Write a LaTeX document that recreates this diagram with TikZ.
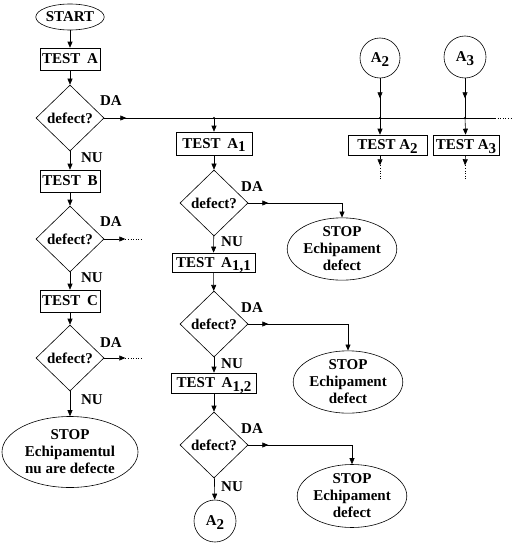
\documentclass[tikz,border=0pt]{standalone}
\usepackage{fontspec}
\setmainfont{Liberation Serif}[BoldFont=Liberation Serif Bold]
\usetikzlibrary{shapes.geometric,arrows.meta,decorations.markings,calc}
\newcommand\lowsub[1]{\raisebox{-3.5pt}[0pt][0pt]{#1}}
\begin{document}
\begin{tikzpicture}[x=1pt,y=-1pt,line width=0.6pt,
  every node/.style={font=\bfseries\fontsize{15}{17}\selectfont},
  box/.style={draw,rectangle,inner sep=0pt,minimum height=22pt},
  dia/.style={draw,diamond,inner sep=0pt,minimum width=68pt,minimum height=66pt},
  stopel/.style={draw,ellipse,inner sep=0pt,align=center},
  conn/.style={circle,draw,inner sep=0pt,minimum size=42pt},
  lbl/.style={inner sep=0pt},
  arr/.style={-{Triangle[length=6pt,width=5pt]}},
  tipat/.style={postaction={decorate},decoration={markings,mark=at position #1 with {\arrow{Triangle[length=6pt,width=5pt]}}}}]
\useasboundingbox (0,0) rectangle (514,546);
% left column
\node[draw,ellipse,inner sep=0pt,minimum width=65pt,minimum height=26pt] (start) at (70,17) {START};
\node[box,minimum width=60pt] (ta) at (70,59) {TEST\hspace{0.45em}A};
\node[dia] (d1) at (70,118) {defect?};
\node[box,minimum width=60pt] (tb) at (70,181) {TEST\hspace{0.45em}B};
\node[dia] (d2) at (70,239) {defect?};
\node[box,minimum width=60pt] (tc) at (70,301) {TEST\hspace{0.45em}C};
\node[dia] (d3) at (70,358) {defect?};
\node[stopel,minimum width=136pt,minimum height=71pt] (s0) at (70,452) {STOP\\Echipamentul\\nu are defecte};
% column A1
\node[box,minimum width=76pt,minimum height=23pt] (ta1) at (214,143.5) {TEST\hspace{0.45em}A\lowsub{1}};
\node[dia] (e1) at (214,203) {defect?};
\node[stopel,minimum width=105pt,minimum height=62pt] (s1) at (342,249) {STOP\\Echipament\\defect};
\node[box,minimum width=83pt,minimum height=19pt] (ta11) at (213.5,262.5) {TEST\hspace{0.45em}A\lowsub{1,1}};
\node[dia] (e2) at (214,324) {defect?};
\node[stopel,minimum width=101pt,minimum height=60pt] (s2) at (348,382) {STOP\\Echipament\\defect};
\node[box,minimum width=85pt,minimum height=20pt] (ta12) at (214,383) {TEST\hspace{0.45em}A\lowsub{1,2}};
\node[dia] (e3) at (214,445) {defect?};
\node[stopel,minimum width=105pt,minimum height=63pt] (s3) at (352,496) {STOP\\Echipament\\defect};
\node[conn] (ca) at (215,521) {A\lowsub{2}};
% top right
\node[conn,minimum size=40pt] (c2) at (380,58) {A\lowsub{2}};
\node[conn,minimum size=42pt] (c3) at (465,57) {A\lowsub{3}};
\node[box,minimum width=79pt,minimum height=20pt] (ta2) at (387.5,145) {TEST A\lowsub{2}};
\node[box,minimum width=66pt,minimum height=20pt] (ta3) at (466,145) {TEST A\lowsub{3}};
% labels
\node[lbl] at (111,101) {DA};
\node[lbl] at (92,158) {NU};
\node[lbl] at (111,222) {DA};
\node[lbl] at (92,278) {NU};
\node[lbl] at (111,343) {DA};
\node[lbl] at (92,400) {NU};
\node[lbl] at (252,187) {DA};
\node[lbl] at (232,242) {NU};
\node[lbl] at (252,308) {DA};
\node[lbl] at (232,364) {NU};
\node[lbl] at (252,429) {DA};
\node[lbl] at (232,487) {NU};
% coordinates
\coordinate (mend) at (495,118);
\coordinate (mdot) at (512,118);
\coordinate (j1) at (ta1 |- d1.east);
\coordinate (j2) at (c2 |- d1.east);
\coordinate (j3) at (c3 |- d1.east);
\coordinate (b2) at ($(j2 |- ta2.south)+(0,10)$);
\coordinate (b2e) at ($(j2 |- ta2.south)+(0,25)$);
\coordinate (b3) at ($(j3 |- ta3.south)+(0,10)$);
\coordinate (b3e) at ($(j3 |- ta3.south)+(0,25)$);
\coordinate (d2a) at ($(d2.east)+(21,0)$);
\coordinate (d2b) at ($(d2.east)+(38,0)$);
\coordinate (d3a) at ($(d3.east)+(21,0)$);
\coordinate (d3b) at ($(d3.east)+(38,0)$);
% connectors left
\draw[arr] (start) -- (ta);
\draw[arr] (ta) -- (d1);
\draw[arr] (d1) -- (tb);
\draw[arr] (tb) -- (d2);
\draw[arr] (d2) -- (tc);
\draw[arr] (tc) -- (d3);
\draw[arr] (d3) -- (s0);
\draw[arr] (d2.east) -- (d2a);
\draw[dotted] (d2a) -- (d2b);
\draw[arr] (d3.east) -- (d3a);
\draw[dotted] (d3a) -- (d3b);
% main line
\draw[tipat=22pt] (d1.east) -- (mend);
\draw[dotted] (mend) -- (mdot);
\fill (j1) circle (1.2pt);
\fill (j2) circle (1.2pt);
\fill (j3) circle (1.2pt);
\draw[arr] (j1) -- (ta1);
\draw[tipat=20pt] (c2) -- (j2);
\draw[tipat=20pt] (c3) -- (j3);
\draw[arr] (j2) -- (j2 |- ta2.north);
\draw[arr] (j3) -- (ta3);
\draw[arr] (j2 |- ta2.south) -- (b2);
\draw[dotted] (b2) -- (b2e);
\draw[arr] (ta3) -- (b3);
\draw[dotted] (b3) -- (b3e);
% column A1 connectors
\draw[arr] (ta1) -- (e1);
\draw[arr,tipat=20pt] (e1.east) -| (s1);
\draw[arr] (e1) -- (ta11);
\draw[arr] (ta11) -- (e2);
\draw[arr,tipat=20pt] (e2.east) -| (s2);
\draw[arr] (e2) -- (ta12);
\draw[arr] (ta12) -- (e3);
\draw[arr,tipat=20pt] (e3.east) -| (s3);
\draw[arr] (e3) -- (ca);
\end{tikzpicture}
\end{document}
